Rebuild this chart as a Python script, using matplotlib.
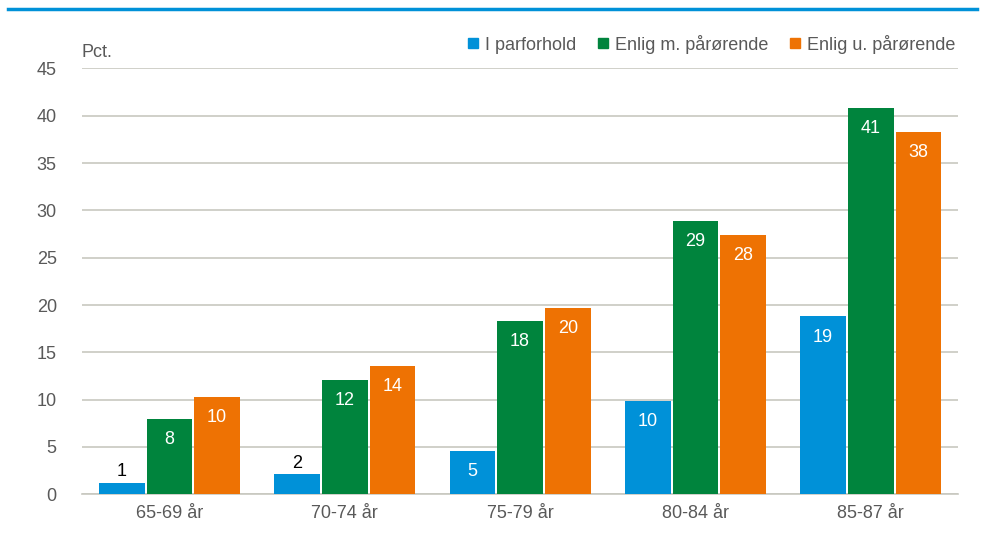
import numpy as np
import matplotlib
matplotlib.use('Agg')
import matplotlib.pyplot as plt
from matplotlib.lines import Line2D

plt.rcParams['font.family'] = ['Liberation Sans', 'DejaVu Sans']

categories = ['65-69 år', '70-74 år', '75-79 år', '80-84 år', '85-87 år']
series_names = ['I parforhold', 'Enlig m. pårørende', 'Enlig u. pårørende']
parforhold = [1.2, 2.1, 4.6, 9.9, 18.8]
enlig_m = [8.0, 12.1, 18.3, 28.9, 40.8]
enlig_u = [10.3, 13.6, 19.7, 27.4, 38.3]
labels_par = ['1', '2', '5', '10', '19']
labels_m = ['8', '12', '18', '29', '41']
labels_u = ['10', '14', '20', '28', '38']

colors = ['#0091D8', '#00843D', '#EE7203']
grey = '#595959'

fig = plt.figure(figsize=(9.85, 5.39), dpi=100)
ax = fig.add_axes([0.083, 0.083, 0.89, 0.79])

x = np.arange(len(categories))
w = 0.26
gap = 0.012
all_vals = [parforhold, enlig_m, enlig_u]
all_labels = [labels_par, labels_m, labels_u]
for i, (vals, labs) in enumerate(zip(all_vals, all_labels)):
    pos = x + (i - 1) * (w + gap)
    ax.bar(pos, vals, width=w, color=colors[i], zorder=3)
    for p, v, t in zip(pos, vals, labs):
        if v < 4:
            ax.text(p, v + 0.3, t, ha='center', va='bottom', fontsize=13, color='black', zorder=4)
        else:
            ax.text(p, v - 1.3, t, ha='center', va='top', fontsize=13, color='white', zorder=4)

ax.set_ylim(0, 45)
ax.set_yticks(range(0, 46, 5))
ax.set_xlim(-0.5, 4.5)
ax.set_xticks(x)
ax.set_xticklabels(categories)
ax.yaxis.grid(True, color='#C8C8C0', linewidth=1.2, zorder=0)
ax.tick_params(axis='both', length=0, labelsize=13, labelcolor=grey)
ax.tick_params(axis='y', pad=18)
ax.tick_params(axis='x', pad=8)
for s in ['top', 'right', 'left']:
    ax.spines[s].set_visible(False)
ax.spines['bottom'].set_color('#C8C8C0')
ax.spines['bottom'].set_linewidth(1.2)

ax.text(0.0, 1.018, 'Pct.', transform=ax.transAxes, fontsize=13, color=grey, ha='left', va='bottom')

handles = [Line2D([0], [0], marker='s', linestyle='none', markersize=7,
                  markerfacecolor=c, markeredgecolor=c) for c in colors]
leg = ax.legend(handles, series_names, loc='lower right', bbox_to_anchor=(1.005, 1.018),
                ncol=3, frameon=False, fontsize=13, handletextpad=0.05,
                columnspacing=0.9, borderaxespad=0, handlelength=1.2)
for t in leg.get_texts():
    t.set_color(grey)

fig.add_artist(Line2D([0.008, 0.992], [0.983, 0.983], color='#0091D8', linewidth=2.5))

fig.savefig('out.png', dpi=100)
